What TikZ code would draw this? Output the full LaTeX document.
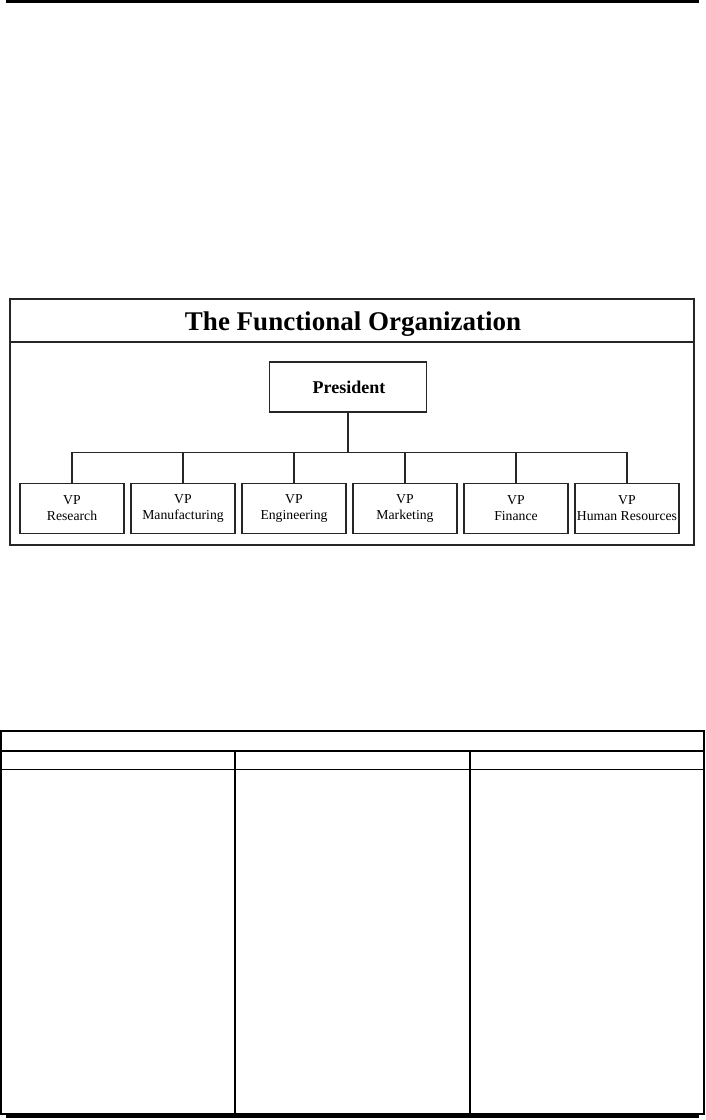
\documentclass[tikz,border=0pt]{standalone}
\usepackage{fontspec}
\setmainfont{Liberation Serif}
\begin{document}
\begin{tikzpicture}[x=1pt,y=-1pt,
  frameline/.style={draw=black!85, line width=1.3pt},
  vpbox/.style={draw=black!85, line width=1.1pt, minimum width=104pt, minimum height=50pt, inner sep=0pt, align=center, font=\fontsize{13.7}{16}\selectfont},
  conn/.style={draw=black!85, line width=1.1pt},
  rule/.style={line width=3pt},
  tab/.style={line width=1.6pt}]
\useasboundingbox (0,0) rectangle (706,1120);
% top page rule
\coordinate (rl) at (6,1.4);
\coordinate (rr) at (699,1.4);
\draw[rule] (rl) -- (rr);
% chart frame
\draw[frameline] (10,299) rectangle (694,545);
\draw[frameline] (10,342) -- (694,342);
\node[anchor=base, font=\fontsize{27}{27}\selectfont\bfseries, inner sep=0pt] (title) at (353,330.7) {The Functional Organization};
% president
\node[draw=black!85, line width=1.1pt, minimum width=157pt, minimum height=50pt, inner sep=0pt] (pres) at (348,387) {};
\node[anchor=base, font=\fontsize{18}{18}\selectfont\bfseries, inner sep=0pt] (prestxt) at (349,393.5) {President};
% VPs
\node[vpbox] (v1) at (72,508.3) {VP\\Research};
\node[vpbox] (v2) at (183,508.3) {VP\\Manufacturing};
\node[vpbox] (v3) at (294,508.3) {VP\\Engineering};
\node[vpbox] (v4) at (405,508.3) {VP\\Marketing};
\node[vpbox] (v5) at (516,508.3) {VP\\Finance};
\node[vpbox] (v6) at (627,508.3) {VP\\Human Resources};
\coordinate (bus) at (348,452.3);
\draw[conn] (pres.south) -- (pres.south |- bus);
\draw[conn] (v1.north |- bus) -- (v6.north |- bus);
\foreach \i in {1,...,6} {\draw[conn] (v\i.north) -- (v\i.north |- bus);}
% table
\draw[tab] (0.8,731) rectangle (704,1114);
\draw[tab] (0.8,751) -- (704,751);
\draw[tab] (0.8,769.3) -- (704,769.3);
\draw[tab] (235,751) -- (235,1114);
\draw[tab] (470,751) -- (470,1114);
\coordinate (bl) at (6,1116.5);
\coordinate (br) at (699,1116.5);
\draw[rule] (bl) -- (br);
\end{tikzpicture}
\end{document}
